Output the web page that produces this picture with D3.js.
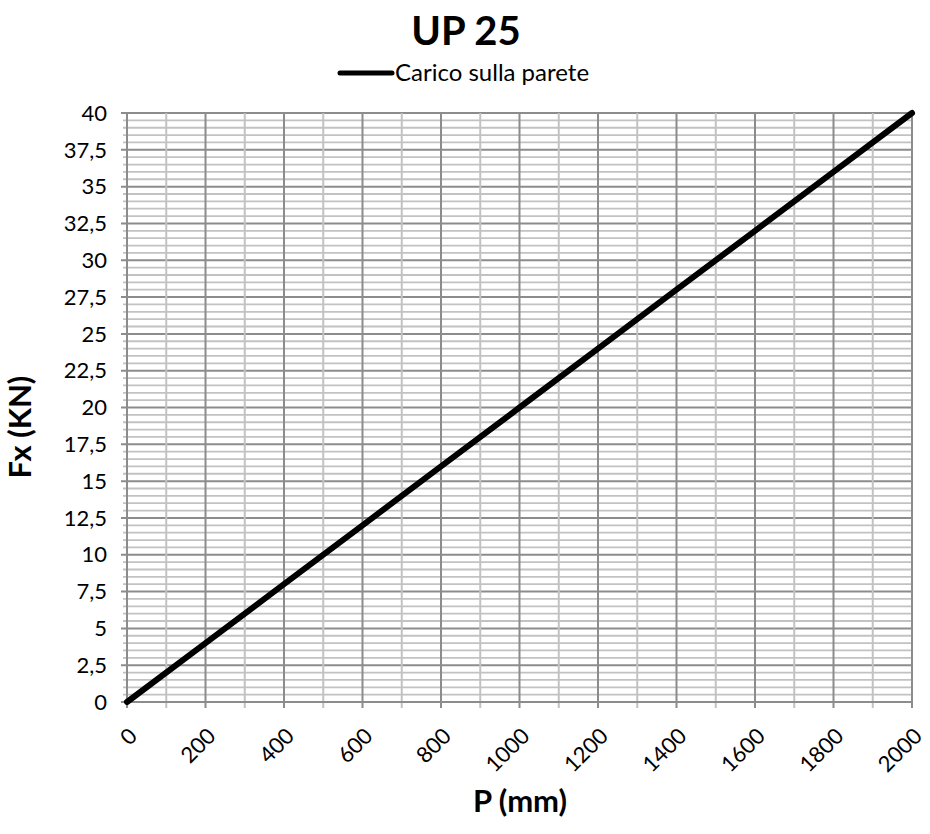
<!DOCTYPE html>
<html><head><meta charset="utf-8">
<script src="https://cdn.jsdelivr.net/npm/d3@7"></script>
<style>body{margin:0;background:#fff;} text{font-family:Lato,"Open Sans",sans-serif;}</style>
</head><body>
<svg id="c" width="930" height="834"></svg>
<script>
const pValues = [0,200,400,600,800,1000,1200,1400,1600,1800,2000];
const fxValues = [0,4,8,12,16,20,24,28,32,36,40];
const xTickLabels = ["0","200","400","600","800","1000","1200","1400","1600","1800","2000"];
const yTickLabels = ["0","2,5","5","7,5","10","12,5","15","17,5","20","22,5","25","27,5","30","32,5","35","37,5","40"];
const seriesName = "Carico sulla parete";
const title = "UP 25";

const svg = d3.select("#c");
const L=127,R=912,T=113,B=702;
const x = d3.scaleLinear().domain([0,2000]).range([L,R]);
const y = d3.scaleLinear().domain([0,40]).range([B,T]);

const g = svg.append("g");
d3.range(0,40.01,0.5).forEach(v=>{
  const major = Math.abs(v/2.5-Math.round(v/2.5))<1e-6;
  g.append("line").attr("x1",major?L-6:L-4).attr("x2",R).attr("y1",y(v)).attr("y2",y(v))
   .attr("stroke",major?"#8c8c8c":"#c2c2c2").attr("stroke-width",major?2:1.8);
});
d3.range(0,2001,100).forEach(v=>{
  const major = v%200===0;
  g.append("line").attr("x1",x(v)).attr("x2",x(v)).attr("y1",T).attr("y2",B+6)
   .attr("stroke",major?"#8c8c8c":"#c2c2c2").attr("stroke-width",2);
});
g.append("line").attr("x1",L).attr("x2",L).attr("y1",T).attr("y2",B+6).attr("stroke","#8c8c8c").attr("stroke-width",2);
g.append("line").attr("x1",L-6).attr("x2",R).attr("y1",B).attr("y2",B).attr("stroke","#8c8c8c").attr("stroke-width",2);

yTickLabels.forEach((t,i)=>{
  svg.append("text").attr("x",107).attr("y",y(i*2.5)).attr("dy","0.35em")
    .attr("text-anchor","end").attr("font-size",22).attr("fill","#000").text(t);
});
xTickLabels.forEach((t,i)=>{
  const px = x(pValues[i]);
  svg.append("text").attr("transform",`translate(${px+6},${B+30}) rotate(-45)`)
    .attr("text-anchor","end").attr("dy","0.35em").attr("font-size",22).attr("fill","#000").text(t);
});

const line = d3.line().x((d,i)=>x(pValues[i])).y(d=>y(d));
svg.append("path").datum(fxValues).attr("d",line).attr("fill","none")
  .attr("stroke","#000").attr("stroke-width",6).attr("stroke-linecap","round");

svg.append("text").attr("x",466).attr("y",45).attr("text-anchor","middle")
  .attr("font-size",40).attr("font-weight","bold").attr("fill","#000").text(title);
svg.append("line").attr("x1",340).attr("x2",392).attr("y1",73).attr("y2",73).attr("stroke","#000").attr("stroke-width",5).attr("stroke-linecap","round");
svg.append("text").attr("x",395).attr("y",73).attr("dy","0.35em").attr("font-size",24).attr("fill","#000").text(seriesName);

svg.append("text").attr("x",520).attr("y",812).attr("text-anchor","middle")
  .attr("font-size",31).attr("font-weight","bold").text("P (mm)");
svg.append("text").attr("transform","translate(31,427) rotate(-90)").attr("text-anchor","middle")
  .attr("font-size",31).attr("font-weight","bold").text("Fx (KN)");
</script>
</body></html>
